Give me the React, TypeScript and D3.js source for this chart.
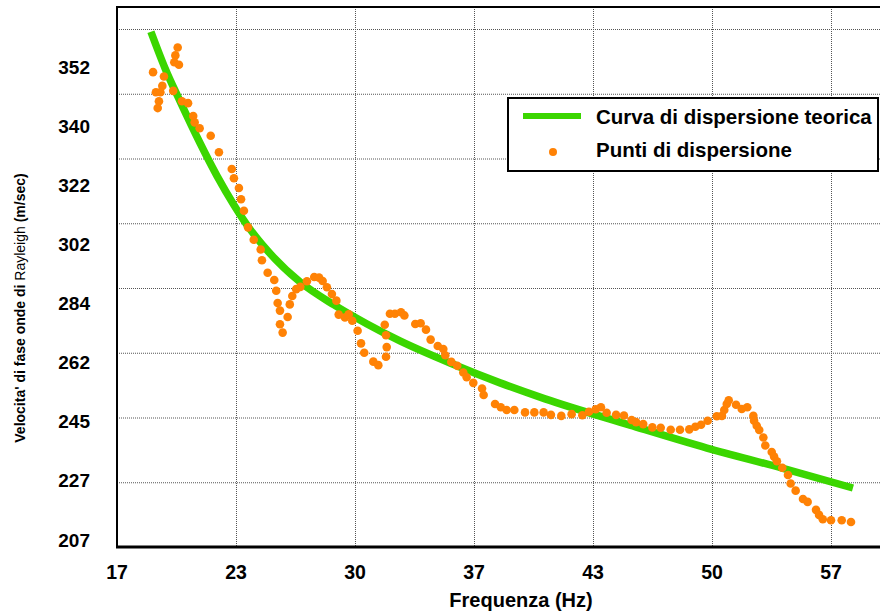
import { useEffect, useRef } from "react";
import * as d3 from "d3";

// measured dispersion points (Hz, m/s)
const pointFreq = [
  19.02, 19.63, 19.54, 19.18, 19.43, 19.35, 19.28, 20.4, 20.27, 20.21, 20.47, 20.15, 20.64, 20.98, 21.27,
  21.35, 21.63, 22.25, 22.71, 23.43, 23.55, 23.83, 23.95, 24.11, 24.34, 24.66, 25.05, 25.12, 25.44, 25.81,
  25.92, 26.0, 26.13, 26.13, 26.28, 26.56, 26.68, 26.82, 27.04, 27.27, 27.64, 28.05, 28.32, 28.52, 28.76,
  29.04, 29.29, 29.42, 29.77, 29.98, 30.18, 30.48, 30.67, 30.85, 31.36, 31.64, 32.07, 32.11, 32.07, 32.0,
  32.29, 32.57, 32.91, 33.1, 33.71, 34.01, 34.31, 34.57, 34.97, 35.28, 35.39, 35.73, 36.06, 36.4, 36.59,
  36.96, 37.45, 37.54, 38.18, 38.5, 38.83, 39.26, 39.86, 40.38, 40.9, 41.31, 41.89, 42.47, 43.07, 43.44,
  43.82, 44.11, 44.43, 44.96, 45.4, 45.83, 46.08, 46.48, 46.99, 47.46, 48.02, 48.54, 49.06, 49.4, 49.72,
  50.09, 50.6, 50.89, 51.02, 51.16, 51.27, 51.68, 52.0, 52.31, 52.65, 52.69, 52.84, 52.98, 53.21, 53.32,
  53.68, 53.81, 53.97, 54.27, 54.59, 54.74, 55.02, 55.43, 55.69, 56.16, 56.33, 56.54, 57.0, 57.6, 58.12,
];
const pointVel = [
  351.0, 350.1, 348.2, 346.9, 346.9, 345.1, 343.7, 356.0, 354.4, 353.0, 352.5, 347.2, 345.1, 344.7, 342.1,
  340.8, 339.4, 337.1, 332.1, 327.0, 324.2, 321.1, 317.3, 313.4, 307.8, 303.6, 300.5, 297.2, 293.4, 291.2,
  287.9, 284.2, 281.4, 276.3, 273.2, 279.0, 283.7, 286.3, 288.4, 289.1, 290.8, 292.1, 291.9, 290.9, 289.0,
  286.9, 284.9, 279.9, 278.8, 280.0, 277.6, 273.9, 269.2, 265.7, 262.4, 261.3, 264.2, 267.8, 272.2, 276.1,
  280.2, 280.2, 280.8, 279.6, 276.4, 276.7, 274.3, 270.6, 268.2, 267.1, 264.8, 262.3, 261.1, 259.2, 257.8,
  256.2, 254.6, 252.7, 250.1, 249.2, 248.4, 248.4, 247.7, 247.7, 247.7, 247.0, 246.7, 247.2, 246.9, 247.9,
  248.6, 249.2, 247.6, 247.0, 246.8, 245.5, 244.9, 244.3, 243.3, 243.2, 242.6, 242.6, 242.7, 243.5, 244.1,
  245.3, 246.6, 246.7, 248.4, 250.1, 251.2, 249.9, 248.7, 249.2, 246.7, 245.3, 243.8, 242.5, 240.2, 237.8,
  235.8, 234.4, 233.0, 231.0, 228.8, 226.1, 223.7, 220.9, 219.9, 217.2, 215.5, 214.0, 213.7, 213.7, 213.1,
];

const curveFreq = [18.9, 19.69, 20.53, 21.65, 22.6, 23.55, 24.45, 25.4, 27.25, 29.16, 31.01, 32.85, 35.66, 38.46, 40.98, 45.74, 50.05, 54.26, 58.23];
const curveVel = [359.2, 351.8, 345.1, 334.9, 324.9, 315.4, 307.2, 300.3, 290.6, 283.5, 276.4, 270.1, 261.9, 256.2, 251.6, 244.0, 237.0, 230.9, 224.6];

const xTicks = [17, 23.667, 30.333, 37, 43.667, 50.333, 57];
const xTickLabels = ["17", "23", "30", "37", "43", "50", "57"];
const yTicks = [207, 227, 245, 262, 284, 302, 322, 340, 352];
const gridRows = 8;

const GREEN = "#3bd600";
const ORANGE = "#ff8205";
const FONT = "'Liberation Sans', Arial, sans-serif";

export default function App() {
  const svgRef = useRef<SVGSVGElement | null>(null);

  useEffect(() => {
    const width = 880;
    const height = 613;
    const plot = { left: 117, top: 7, bottom: 547, right: 880 };

    const svg = d3.select(svgRef.current)
      .attr("width", width)
      .attr("height", height)
      .style("display", "block")
      .style("background", "#ffffff")
      .style("font-family", FONT);

    svg.selectAll("*").remove();

    const x = d3.scaleLinear().domain([17, 57]).range([117, 831]);
    // tick labels are evenly spaced even though their values are not
    const labelBottom = 540;
    const labelStep = 59.1;
    const y = d3.scaleLinear()
      .domain(yTicks)
      .range(yTicks.map((_, i) => labelBottom - i * labelStep));
    const gridY = d3.scaleLinear().domain([0, gridRows]).range([plot.bottom, 29]);

    // grid
    const grid = svg.append("g").attr("stroke", "#555").attr("stroke-width", 1).attr("stroke-dasharray", "1,1");
    grid.selectAll("line.h")
      .data(d3.range(1, gridRows + 1))
      .join("line")
      .attr("class", "h")
      .attr("x1", plot.left).attr("x2", plot.right)
      .attr("y1", d => gridY(d) + 0.5).attr("y2", d => gridY(d) + 0.5);
    grid.selectAll("line.v")
      .data(xTicks.slice(1))
      .join("line")
      .attr("class", "v")
      .attr("x1", d => Math.round(x(d)) + 0.5).attr("x2", d => Math.round(x(d)) + 0.5)
      .attr("y1", plot.top).attr("y2", plot.bottom);

    // frame
    svg.append("line").attr("x1", plot.left).attr("x2", plot.right).attr("y1", plot.top).attr("y2", plot.top)
      .attr("stroke", "#000").attr("stroke-width", 2);
    svg.append("line").attr("x1", plot.left).attr("x2", plot.left).attr("y1", plot.top - 1).attr("y2", plot.bottom)
      .attr("stroke", "#000").attr("stroke-width", 2);
    svg.append("line").attr("x1", plot.left - 1).attr("x2", plot.right).attr("y1", plot.bottom).attr("y2", plot.bottom)
      .attr("stroke", "#000").attr("stroke-width", 3);

    // theoretical curve
    const line = d3.line<number>()
      .x(i => x(curveFreq[i]))
      .y(i => y(curveVel[i]))
      .curve(d3.curveMonotoneX);
    svg.append("path")
      .datum(d3.range(curveFreq.length))
      .attr("fill", "none")
      .attr("stroke", GREEN)
      .attr("stroke-width", 7.5)
      .attr("d", line);

    // points
    svg.append("g")
      .selectAll("circle")
      .data(d3.range(pointFreq.length))
      .join("circle")
      .attr("cx", i => x(pointFreq[i]))
      .attr("cy", i => y(pointVel[i]))
      .attr("r", 4.3)
      .attr("fill", ORANGE);

    // y tick labels
    svg.append("g")
      .selectAll("text")
      .data(yTicks)
      .join("text")
      .attr("x", 90)
      .attr("y", d => y(d))
      .attr("text-anchor", "end")
      .attr("dominant-baseline", "central")
      .attr("font-size", 19)
      .attr("font-weight", "bold")
      .text(d => d);

    // x tick labels
    svg.append("g")
      .selectAll("text")
      .data(xTicks)
      .join("text")
      .attr("x", d => x(d))
      .attr("y", 579)
      .attr("text-anchor", "middle")
      .attr("font-size", 19.5)
      .attr("font-weight", "bold")
      .text((_, i) => xTickLabels[i]);

    // axis titles
    svg.append("text")
      .attr("x", 521)
      .attr("y", 607)
      .attr("text-anchor", "middle")
      .attr("font-size", 20)
      .attr("font-weight", "bold")
      .text("Frequenza (Hz)");

    const yTitle = svg.append("text")
      .attr("transform", "translate(20,308) rotate(-90)")
      .attr("text-anchor", "middle")
      .attr("dominant-baseline", "central")
      .attr("font-size", 14);
    yTitle.append("tspan").attr("font-weight", "bold").text("Velocita' di fase onde di ");
    yTitle.append("tspan").text("Rayleigh");
    yTitle.append("tspan").attr("font-weight", "bold").text(" (m/sec)");

    // legend
    const legend = svg.append("g");
    legend.append("rect")
      .attr("x", 508).attr("y", 98).attr("width", 370).attr("height", 73)
      .attr("fill", "#fff").attr("stroke", "#000").attr("stroke-width", 2);
    legend.append("line")
      .attr("x1", 523).attr("x2", 581).attr("y1", 116).attr("y2", 116)
      .attr("stroke", GREEN).attr("stroke-width", 6);
    legend.append("text")
      .attr("x", 596).attr("y", 123.5)
      .attr("font-size", 20.5).attr("font-weight", "bold")
      .text("Curva di dispersione teorica");
    legend.append("circle")
      .attr("cx", 553).attr("cy", 152).attr("r", 4).attr("fill", ORANGE);
    legend.append("text")
      .attr("x", 596).attr("y", 156.5)
      .attr("font-size", 20.5).attr("font-weight", "bold")
      .text("Punti di dispersione");
  }, []);

  return (
    <>
      <style>{`body{margin:0}`}</style>
      <svg ref={svgRef}></svg>
    </>
  );
}
